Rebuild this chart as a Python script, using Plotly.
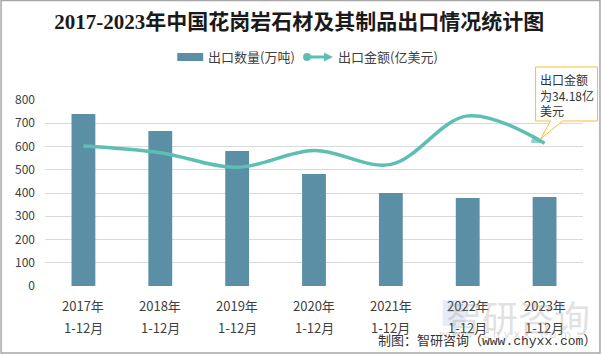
import plotly.graph_objects as go

# ---- data ----
years = ["2017年", "2018年", "2019年", "2020年", "2021年", "2022年", "2023年"]
periods = ["1-12月"] * 7
categories = [f"{y}{p}" for y, p in zip(years, periods)]
export_volume = [740, 667, 581, 482, 400, 378, 383]          # 万吨
export_value = [33.5, 31.9, 28.4, 32.4, 29.1, 40.7, 34.18]    # 亿美元
y_ticks = [0, 100, 200, 300, 400, 500, 600, 700, 800]

title_text = "2017-2023年中国花岗岩石材及其制品出口情况统计图"
bar_name = "出口数量(万吨)"
line_name = "出口金额(亿美元)"
callout_text = "出口金额<br>为34.18亿<br>美元"
source_text = "制图：智研咨询（www.chyxx.com）"

# ---- layout geometry (pixels) ----
W, H = 602, 355
L, R, T, B = 44.5, 583.5, 100, 286
def px(x):
    return (x - L) / (R - L)
def py(y):
    return (B - y) / (B - T)

BAR_C = "#5B8FA6"
LINE_C = "#5DBFB4"
TXT = "#404040"
FONT = "Noto Sans CJK SC"

fig = go.Figure()
fig.add_trace(go.Bar(
    x=categories, y=export_volume, name=bar_name,
    marker=dict(color=BAR_C, line=dict(width=0)), width=0.31,
    showlegend=False, hoverinfo="skip",
))
n = len(export_value)
fig.add_trace(go.Scatter(
    x=categories, y=export_value, name=line_name, yaxis="y2",
    mode="lines+markers", line=dict(color=LINE_C, width=3.5, shape="spline", smoothing=1.0),
    marker=dict(
        symbol=["circle"] + ["circle"] * (n - 2) + ["arrow"],
        size=[11] + [0] * (n - 2) + [14],
        angleref="previous", color=LINE_C, line=dict(width=0),
    ),
    showlegend=False, hoverinfo="skip",
))

shapes = []
annotations = []

# outer border
shapes.append(dict(type="rect", xref="paper", yref="paper",
                   x0=px(0.5), x1=px(600.5), y0=py(353), y1=py(0.5),
                   line=dict(color="#A6A6A6", width=1.5), fillcolor="rgba(0,0,0,0)", layer="below"))

# custom legend
shapes.append(dict(type="rect", xref="paper", yref="paper",
                   x0=px(177), x1=px(203), y0=py(61), y1=py(53),
                   fillcolor=BAR_C, line=dict(width=0)))
annotations.append(dict(x=px(206), y=py(56.5), xref="paper", yref="paper", text=bar_name,
                        showarrow=False, xanchor="left", yanchor="middle",
                        font=dict(size=13, color=TXT, family=FONT)))
shapes.append(dict(type="line", xref="paper", yref="paper",
                   x0=px(307), x1=px(327), y0=py(57), y1=py(57),
                   line=dict(color=LINE_C, width=3)))
shapes.append(dict(type="circle", xref="paper", yref="paper",
                   x0=px(303), x1=px(311), y0=py(61), y1=py(53),
                   fillcolor=LINE_C, line=dict(width=0)))
shapes.append(dict(type="path", xref="paper", yref="paper",
                   path=f"M {px(324)},{py(52.5)} L {px(333)},{py(57)} L {px(324)},{py(61.5)} Z",
                   fillcolor=LINE_C, line=dict(width=0)))
annotations.append(dict(x=px(336), y=py(56.5), xref="paper", yref="paper", text=line_name,
                        showarrow=False, xanchor="left", yanchor="middle",
                        font=dict(size=13, color=TXT, family=FONT)))

# callout box
cp = [(536, 67), (598, 67), (598, 121), (563, 121), (541, 139), (551, 121), (536, 121)]
path = "M " + " L ".join(f"{px(a)},{py(b)}" for a, b in cp) + " Z"
shapes.append(dict(type="path", xref="paper", yref="paper", path=path,
                   fillcolor="white", line=dict(color="#F5C02C", width=1)))
annotations.append(dict(x=px(538), y=py(69), xref="paper", yref="paper", text=callout_text,
                        showarrow=False, xanchor="left", yanchor="top", align="left",
                        font=dict(size=12, color="#333333", family=FONT)))

# x category labels (two rows)
for c, yr, pr in zip(categories, years, periods):
    annotations.append(dict(x=c, y=py(305), xref="x", yref="paper", text=yr, showarrow=False,
                            xanchor="center", yanchor="middle",
                            font=dict(size=13, color=TXT, family=FONT)))
    annotations.append(dict(x=c, y=py(327), xref="x", yref="paper", text=pr, showarrow=False,
                            xanchor="center", yanchor="middle",
                            font=dict(size=13, color=TXT, family=FONT)))

# watermark
annotations.append(dict(x=px(518), y=py(316), xref="paper", yref="paper", text="智研咨询",
                        showarrow=False, xanchor="center", yanchor="middle",
                        font=dict(size=36, color="rgba(150,150,150,0.3)", family=FONT)))
annotations.append(dict(x=px(505), y=py(334), xref="paper", yref="paper",
                        text="w w w . c h y x x . c o m",
                        showarrow=False, xanchor="center", yanchor="middle",
                        font=dict(size=11, color="rgba(150,150,150,0.35)", family="DejaVu Sans")))
shapes.append(dict(type="rect", xref="paper", yref="paper",
                   x0=px(443), x1=px(466), y0=py(326), y1=py(300),
                   fillcolor="rgba(140,170,210,0.22)", line=dict(width=0)))

# source
annotations.append(dict(x=px(599), y=py(341), xref="paper", yref="paper", text=source_text,
                        showarrow=False, xanchor="right", yanchor="middle",
                        font=dict(size=13, color="#333333", family="Liberation Mono, " + FONT)))

fig.update_layout(
    width=W, height=H,
    margin=dict(l=L, r=W - R, t=T, b=H - B, pad=0),
    paper_bgcolor="white", plot_bgcolor="white",
    title=dict(text=f"<b>{title_text}</b>", x=0.497, xref="container", xanchor="center",
               y=1 - 22 / H, yanchor="middle",
               font=dict(size=21, color="#1a1a1a", family="Liberation Serif, " + FONT)),
    xaxis=dict(showticklabels=False, showgrid=False, zeroline=False, showline=False, ticks=""),
    yaxis=dict(range=[0, 800], tickvals=y_ticks, showgrid=True, gridcolor="#D9D9D9", gridwidth=1,
               zeroline=False, showline=False, ticks="", ticklabelstandoff=9,
               tickfont=dict(size=12, color=TXT, family=FONT)),
    yaxis2=dict(range=[0, 44.5], overlaying="y", side="right", visible=False),
    shapes=shapes, annotations=annotations, showlegend=False, bargap=0.69,
)

fig.write_html("out.html", config={"displayModeBar": False},
               post_script="document.body.style.margin='0';document.body.style.overflow='hidden';")
